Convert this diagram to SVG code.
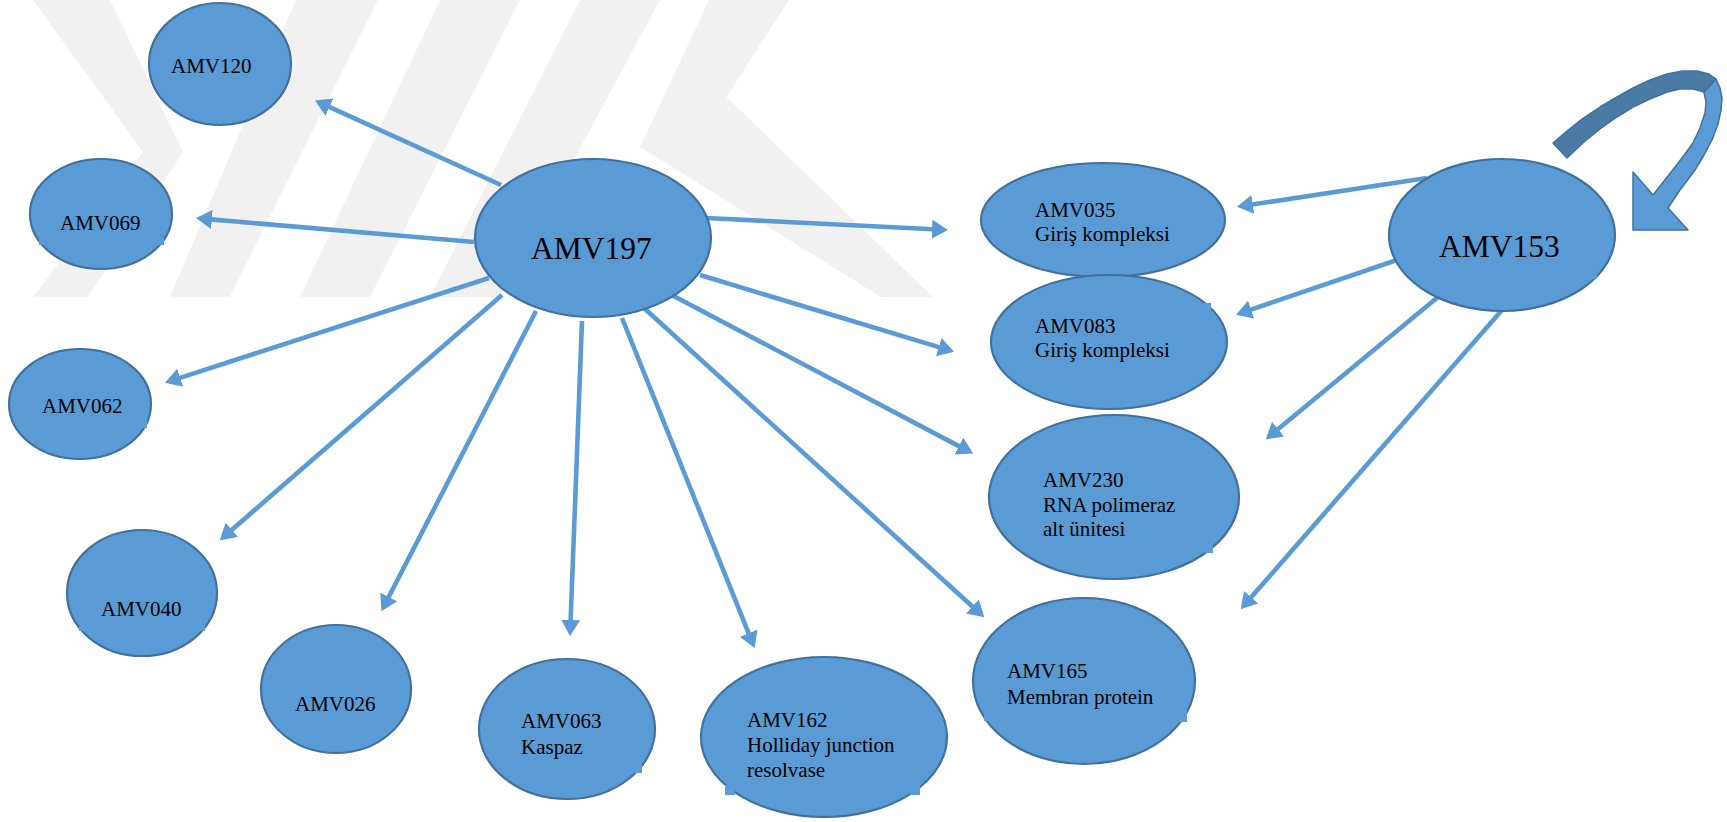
<svg xmlns="http://www.w3.org/2000/svg" width="1727" height="822" viewBox="0 0 1727 822">
<defs>
<style>
.node ellipse{fill:#5b9bd5;stroke:#41719c;stroke-width:2.2}
.node .patch{fill:#5b9bd5;stroke:none}
.lbl{font-family:"Liberation Serif","Times New Roman",serif;font-size:21px;fill:#000}
.big{font-family:"Liberation Serif","Times New Roman",serif;font-size:31.5px;fill:#000}
.edge{stroke:#5b9bd5;stroke-width:4.6;fill:none;marker-end:url(#ah)}
.wm{fill:#f1f1f1}
</style>
<marker id="ah" markerUnits="userSpaceOnUse" viewBox="0 0 16 19" markerWidth="16" markerHeight="19" refX="1" refY="9.5" orient="auto">
<path d="M0,0 L16,9.5 L0,19 Z" fill="#5b9bd5"/>
</marker>
</defs>
<rect width="1727" height="822" fill="#fff"/>
<g id="watermark">
<polygon class="wm" points="33,0 110,0 183,152 88,297 33,297 143,152"/>
<polygon class="wm" points="296,0 378,0 230,297 170,297"/>
<polygon class="wm" points="440,0 520,0 370,297 300,297"/>
<polygon class="wm" points="580,0 660,0 500,297 430,297"/>
<polygon class="wm" points="709,0 789,0 686,160 640,147"/>
<polygon class="wm" points="686,107 709,80 933,297 881,297 640,147"/>
</g>
<g id="connectors">
<path class="edge" d="M501,185 L328.6,106.6"/>
<path class="edge" d="M474,242 L210.9,219.4"/>
<path class="edge" d="M706,218 L933,229.2"/>
<path class="edge" d="M700,275 L939.7,347.4"/>
<path class="edge" d="M666,292 L959.8,446.6"/>
<path class="edge" d="M644,308 L973.2,607.2"/>
<path class="edge" d="M622,318 L749,634.2"/>
<path class="edge" d="M582,321 L570.6,621"/>
<path class="edge" d="M536,311 L388.3,597.8"/>
<path class="edge" d="M502,295 L231.1,530.5"/>
<path class="edge" d="M489,278 L179.2,378.1"/>
<path class="edge" d="M1427,178 L1251.8,204.6"/>
<path class="edge" d="M1397,260 L1250.2,309.9"/>
<path class="edge" d="M1438,297 L1277.3,429.8"/>
<path class="edge" d="M1502,310 L1250.5,598"/>
</g>
<g id="loop-arrow">
<path d="M1716,79 L1720,88 L1722,98 L1721,110 L1718,124 L1712,140 L1704,155 L1695,170 L1680,190 L1668,208 L1688,230 L1633,230 L1633,172 L1653,195 L1668,176 L1682,158 L1693,143 L1700,128 L1705,113 L1706,102 L1704,92 Z" fill="#5b9bd5" stroke="#41719c" stroke-width="1.5" stroke-linejoin="round"/>
<path d="M1553,143 L1567,131 L1582,119 L1600,107 L1617,97 L1633,88 L1650,80 L1667,74 L1682,71 L1697,71 L1709,74 L1716,79 L1704,92 L1693,89 L1680,89 L1667,92 L1650,99 L1633,107 L1617,117 L1600,129 L1584,142 L1567,158 Z" fill="#4a7ba7" stroke="#41719c" stroke-width="1.5" stroke-linejoin="round"/>
</g>
<g id="AMV120" class="node"><ellipse cx="220" cy="64" rx="71" ry="61"/><text class="lbl" x="171" y="73">AMV120</text></g>
<g id="AMV069" class="node"><ellipse cx="101" cy="214" rx="71" ry="55"/><rect class="patch" x="39" y="235" width="10" height="10"/><rect class="patch" x="154" y="235" width="10" height="10"/><text class="lbl" x="60" y="230">AMV069</text></g>
<g id="AMV062" class="node"><ellipse cx="80" cy="404" rx="71" ry="55"/><rect class="patch" x="138" y="418" width="9" height="10"/><text class="lbl" x="42" y="413">AMV062</text></g>
<g id="AMV040" class="node"><ellipse cx="142" cy="593" rx="75" ry="63"/><rect class="patch" x="79" y="621" width="9" height="10"/><rect class="patch" x="196" y="621" width="9" height="10"/><text class="lbl" x="101" y="616">AMV040</text></g>
<g id="AMV026" class="node"><ellipse cx="336" cy="689" rx="75" ry="64"/><text class="lbl" x="295" y="711">AMV026</text></g>
<g id="AMV063" class="node"><ellipse cx="567" cy="729" rx="88" ry="70"/><rect class="patch" x="633" y="763" width="9" height="10"/><text class="lbl" x="521" y="728">AMV063</text><text class="lbl" x="521" y="754">Kaspaz</text></g>
<g id="AMV162" class="node"><ellipse cx="824" cy="737" rx="123" ry="80"/><rect class="patch" x="725" y="785" width="10" height="10"/><rect class="patch" x="910" y="785" width="10" height="10"/><text class="lbl" x="747" y="727">AMV162</text><text class="lbl" x="747" y="752">Holliday junction</text><text class="lbl" x="747" y="777">resolvase</text></g>
<g id="AMV197" class="node"><ellipse cx="593" cy="238" rx="118" ry="79"/><text class="big" x="531" y="259">AMV197</text></g>
<g id="AMV035" class="node"><ellipse cx="1103" cy="220" rx="122" ry="57"/><text class="lbl" x="1035" y="217">AMV035</text><text class="lbl" x="1035" y="241">Giriş kompleksi</text></g>
<g id="AMV083" class="node"><ellipse cx="1109" cy="342" rx="118" ry="67"/><rect class="patch" x="1201" y="303" width="10" height="10"/><text class="lbl" x="1035" y="333">AMV083</text><text class="lbl" x="1035" y="357">Giriş kompleksi</text></g>
<g id="AMV230" class="node"><ellipse cx="1114" cy="497" rx="125" ry="82"/><rect class="patch" x="1203" y="541" width="10" height="12"/><text class="lbl" x="1043" y="487">AMV230</text><text class="lbl" x="1043" y="512">RNA polimeraz</text><text class="lbl" x="1043" y="536">alt ünitesi</text></g>
<g id="AMV165" class="node"><ellipse cx="1084" cy="681" rx="111" ry="83"/><rect class="patch" x="1177" y="710" width="10" height="12"/><rect class="patch" x="984" y="711" width="9" height="10"/><text class="lbl" x="1007" y="678">AMV165</text><text class="lbl" x="1007" y="704">Membran protein</text></g>
<g id="AMV153" class="node"><ellipse cx="1502" cy="235" rx="113" ry="76"/><rect class="patch" x="1588" y="270" width="9" height="9"/><text class="big" x="1439" y="257">AMV153</text></g>
</svg>
